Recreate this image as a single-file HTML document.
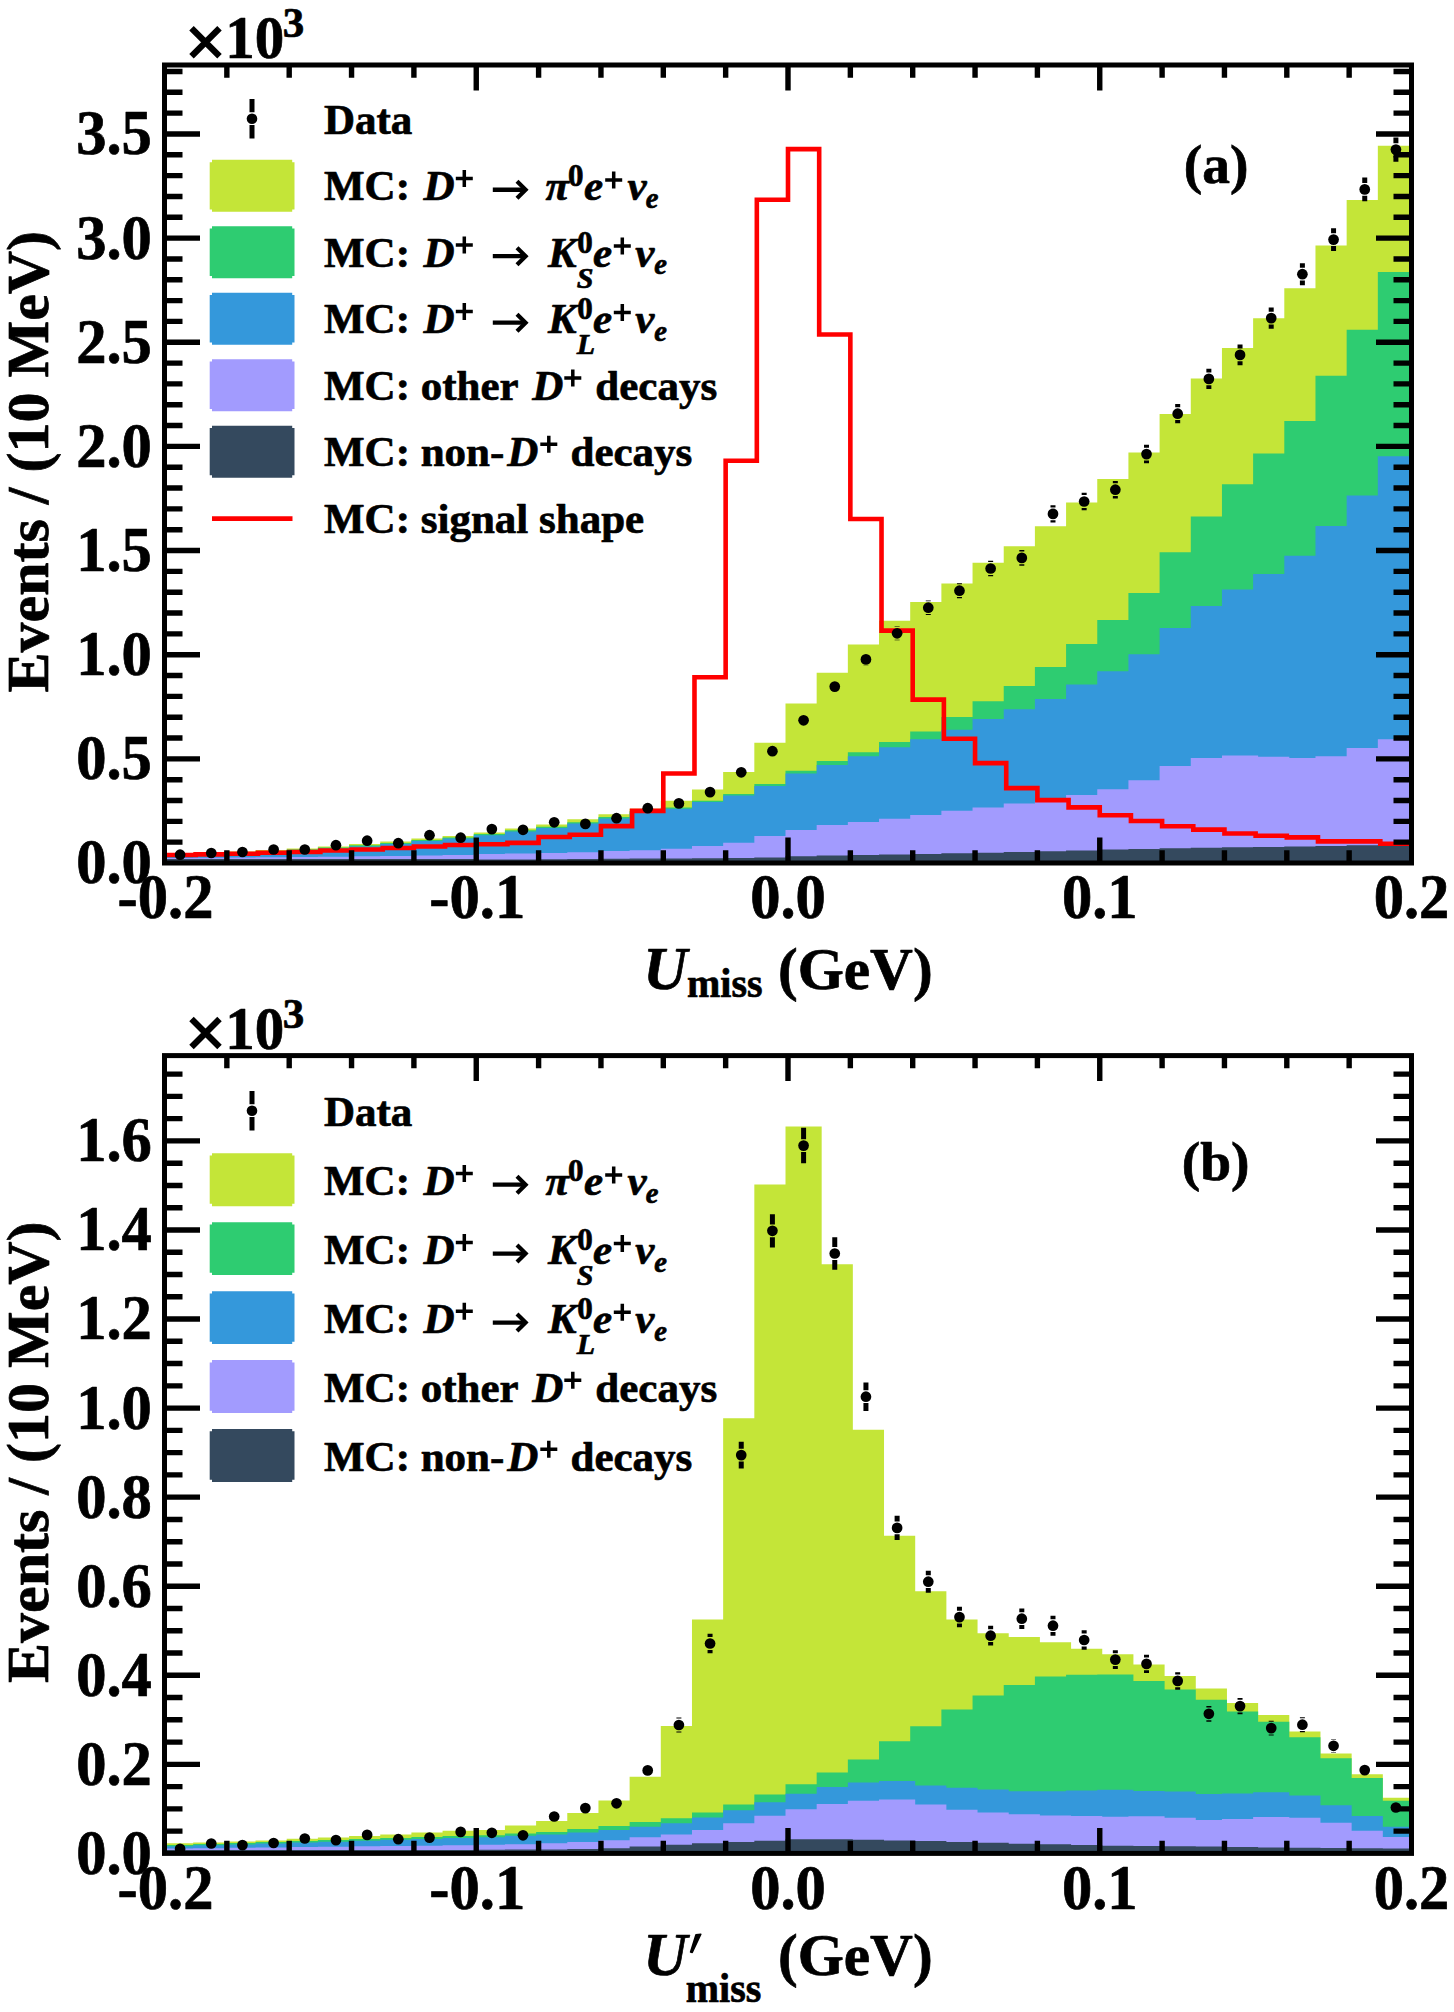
<!DOCTYPE html>
<html><head><meta charset="utf-8"><title>Umiss</title>
<style>
html,body{margin:0;padding:0;background:#fff;}
body{width:1454px;height:2012px;overflow:hidden;font-family:"Liberation Serif",serif;}
svg{display:block;}
text{font-family:"Liberation Serif",serif;fill:#000;stroke:#000;stroke-width:0.7px;stroke-linejoin:round;}
.b{font-weight:bold;}
.bi{font-weight:bold;font-style:italic;}
</style></head><body>
<svg width="1454" height="2012" viewBox="0 0 1454 2012"><rect width="1454" height="2012" fill="#fff"/><clipPath id="cp1"><rect x="164.5" y="65" width="1247" height="798"/></clipPath><g clip-path="url(#cp1)"><path d="M162 866 L162 853.5 L193.18 853.5 L193.18 852.5 L198.18 852.5 L198.18 852.5 L224.35 852.5 L224.35 851.5 L229.35 851.5 L229.35 851.5 L255.53 851.5 L255.53 850 L260.52 850 L260.52 850 L286.7 850 L286.7 848.5 L291.7 848.5 L291.7 848.5 L317.88 848.5 L317.88 846.5 L322.88 846.5 L322.88 846.5 L349.05 846.5 L349.05 844 L354.05 844 L354.05 844 L380.23 844 L380.23 841.5 L385.23 841.5 L385.23 841.5 L411.4 841.5 L411.4 838.5 L416.4 838.5 L416.4 838.5 L442.57 838.5 L442.57 836 L447.57 836 L447.57 836 L473.75 836 L473.75 832.5 L478.75 832.5 L478.75 832.5 L504.93 832.5 L504.93 828.4 L509.93 828.4 L509.93 828.4 L536.1 828.4 L536.1 824.5 L541.1 824.5 L541.1 824.5 L567.27 824.5 L567.27 819.3 L572.27 819.3 L572.27 819.3 L598.45 819.3 L598.45 814.3 L603.45 814.3 L603.45 814.3 L629.62 814.3 L629.62 808.7 L634.62 808.7 L634.62 808.7 L660.8 808.7 L660.8 800.7 L665.8 800.7 L665.8 800.7 L691.98 800.7 L691.98 789.4 L696.98 789.4 L696.98 789.4 L723.15 789.4 L723.15 771.9 L728.15 771.9 L728.15 771.9 L754.33 771.9 L754.33 742.8 L759.33 742.8 L759.33 742.8 L785.5 742.8 L785.5 703.5 L790.5 703.5 L790.5 703.5 L816.67 703.5 L816.67 672.8 L821.67 672.8 L821.67 672.8 L847.85 672.8 L847.85 644.4 L852.85 644.4 L852.85 644.4 L879.02 644.4 L879.02 620.8 L884.02 620.8 L884.02 620.8 L910.2 620.8 L910.2 602 L915.2 602 L915.2 602 L941.38 602 L941.38 583.4 L946.38 583.4 L946.38 583.4 L972.55 583.4 L972.55 562.7 L977.55 562.7 L977.55 562.7 L1003.73 562.7 L1003.73 546.2 L1008.73 546.2 L1008.73 546.2 L1034.9 546.2 L1034.9 526.3 L1039.9 526.3 L1039.9 526.3 L1066.08 526.3 L1066.08 502.4 L1071.08 502.4 L1071.08 502.4 L1097.25 502.4 L1097.25 479 L1102.25 479 L1102.25 479 L1128.42 479 L1128.42 452.5 L1133.42 452.5 L1133.42 452.5 L1159.6 452.5 L1159.6 413.9 L1164.6 413.9 L1164.6 413.9 L1190.78 413.9 L1190.78 378.5 L1195.78 378.5 L1195.78 378.5 L1221.95 378.5 L1221.95 348.1 L1226.95 348.1 L1226.95 348.1 L1253.12 348.1 L1253.12 318.3 L1258.12 318.3 L1258.12 318.3 L1284.3 318.3 L1284.3 288.3 L1289.3 288.3 L1289.3 288.3 L1315.47 288.3 L1315.47 245.4 L1320.47 245.4 L1320.47 245.4 L1346.65 245.4 L1346.65 200 L1351.65 200 L1351.65 200 L1377.83 200 L1377.83 145.8 L1382.83 145.8 L1382.83 145.8 L1414 145.8 L1414 866 Z" fill="#c4e538"/><path d="M162 866 L162 854.5 L193.18 854.5 L193.18 853.5 L198.18 853.5 L198.18 853.5 L224.35 853.5 L224.35 852.5 L229.35 852.5 L229.35 852.5 L255.53 852.5 L255.53 851 L260.52 851 L260.52 851 L286.7 851 L286.7 849.5 L291.7 849.5 L291.7 849.5 L317.88 849.5 L317.88 847.5 L322.88 847.5 L322.88 847.5 L349.05 847.5 L349.05 845.2 L354.05 845.2 L354.05 845.2 L380.23 845.2 L380.23 843 L385.23 843 L385.23 843 L411.4 843 L411.4 840 L416.4 840 L416.4 840 L442.57 840 L442.57 837.5 L447.57 837.5 L447.57 837.5 L473.75 837.5 L473.75 834.1 L478.75 834.1 L478.75 834.1 L504.93 834.1 L504.93 830.2 L509.93 830.2 L509.93 830.2 L536.1 830.2 L536.1 826.8 L541.1 826.8 L541.1 826.8 L567.27 826.8 L567.27 822.3 L572.27 822.3 L572.27 822.3 L598.45 822.3 L598.45 817.1 L603.45 817.1 L603.45 817.1 L629.62 817.1 L629.62 810.9 L634.62 810.9 L634.62 810.9 L660.8 810.9 L660.8 807.5 L665.8 807.5 L665.8 807.5 L691.98 807.5 L691.98 800.7 L696.98 800.7 L696.98 800.7 L723.15 800.7 L723.15 793.9 L728.15 793.9 L728.15 793.9 L754.33 793.9 L754.33 783.9 L759.33 783.9 L759.33 783.9 L785.5 783.9 L785.5 770.8 L790.5 770.8 L790.5 770.8 L816.67 770.8 L816.67 760.9 L821.67 760.9 L821.67 760.9 L847.85 760.9 L847.85 752.2 L852.85 752.2 L852.85 752.2 L879.02 752.2 L879.02 742 L884.02 742 L884.02 742 L910.2 742 L910.2 731.4 L915.2 731.4 L915.2 731.4 L941.38 731.4 L941.38 717.1 L946.38 717.1 L946.38 717.1 L972.55 717.1 L972.55 701.2 L977.55 701.2 L977.55 701.2 L1003.73 701.2 L1003.73 686 L1008.73 686 L1008.73 686 L1034.9 686 L1034.9 667.1 L1039.9 667.1 L1039.9 667.1 L1066.08 667.1 L1066.08 644 L1071.08 644 L1071.08 644 L1097.25 644 L1097.25 620.1 L1102.25 620.1 L1102.25 620.1 L1128.42 620.1 L1128.42 592.9 L1133.42 592.9 L1133.42 592.9 L1159.6 592.9 L1159.6 552.3 L1164.6 552.3 L1164.6 552.3 L1190.78 552.3 L1190.78 516.5 L1195.78 516.5 L1195.78 516.5 L1221.95 516.5 L1221.95 484.2 L1226.95 484.2 L1226.95 484.2 L1253.12 484.2 L1253.12 453.4 L1258.12 453.4 L1258.12 453.4 L1284.3 453.4 L1284.3 421.1 L1289.3 421.1 L1289.3 421.1 L1315.47 421.1 L1315.47 375.8 L1320.47 375.8 L1320.47 375.8 L1346.65 375.8 L1346.65 329.7 L1351.65 329.7 L1351.65 329.7 L1377.83 329.7 L1377.83 272 L1382.83 272 L1382.83 272 L1414 272 L1414 866 Z" fill="#2ecc71"/><path d="M162 866 L162 855.5 L193.18 855.5 L193.18 854.5 L198.18 854.5 L198.18 854.5 L224.35 854.5 L224.35 853.5 L229.35 853.5 L229.35 853.5 L255.53 853.5 L255.53 852 L260.52 852 L260.52 852 L286.7 852 L286.7 850.5 L291.7 850.5 L291.7 850.5 L317.88 850.5 L317.88 848.5 L322.88 848.5 L322.88 848.5 L349.05 848.5 L349.05 846.5 L354.05 846.5 L354.05 846.5 L380.23 846.5 L380.23 844 L385.23 844 L385.23 844 L411.4 844 L411.4 841 L416.4 841 L416.4 841 L442.57 841 L442.57 838.5 L447.57 838.5 L447.57 838.5 L473.75 838.5 L473.75 835.2 L478.75 835.2 L478.75 835.2 L504.93 835.2 L504.93 831.4 L509.93 831.4 L509.93 831.4 L536.1 831.4 L536.1 828 L541.1 828 L541.1 828 L567.27 828 L567.27 823.4 L572.27 823.4 L572.27 823.4 L598.45 823.4 L598.45 818.4 L603.45 818.4 L603.45 818.4 L629.62 818.4 L629.62 812.5 L634.62 812.5 L634.62 812.5 L660.8 812.5 L660.8 808.7 L665.8 808.7 L665.8 808.7 L691.98 808.7 L691.98 801.9 L696.98 801.9 L696.98 801.9 L723.15 801.9 L723.15 795.5 L728.15 795.5 L728.15 795.5 L754.33 795.5 L754.33 785.9 L759.33 785.9 L759.33 785.9 L785.5 785.9 L785.5 773.4 L790.5 773.4 L790.5 773.4 L816.67 773.4 L816.67 764.9 L821.67 764.9 L821.67 764.9 L847.85 764.9 L847.85 756.3 L852.85 756.3 L852.85 756.3 L879.02 756.3 L879.02 747.2 L884.02 747.2 L884.02 747.2 L910.2 747.2 L910.2 739.3 L915.2 739.3 L915.2 739.3 L941.38 739.3 L941.38 729.8 L946.38 729.8 L946.38 729.8 L972.55 729.8 L972.55 718.9 L977.55 718.9 L977.55 718.9 L1003.73 718.9 L1003.73 709.3 L1008.73 709.3 L1008.73 709.3 L1034.9 709.3 L1034.9 698.9 L1039.9 698.9 L1039.9 698.9 L1066.08 698.9 L1066.08 684.6 L1071.08 684.6 L1071.08 684.6 L1097.25 684.6 L1097.25 671.2 L1102.25 671.2 L1102.25 671.2 L1128.42 671.2 L1128.42 654.2 L1133.42 654.2 L1133.42 654.2 L1159.6 654.2 L1159.6 628.1 L1164.6 628.1 L1164.6 628.1 L1190.78 628.1 L1190.78 606.1 L1195.78 606.1 L1195.78 606.1 L1221.95 606.1 L1221.95 589.5 L1226.95 589.5 L1226.95 589.5 L1253.12 589.5 L1253.12 574.1 L1258.12 574.1 L1258.12 574.1 L1284.3 574.1 L1284.3 555.7 L1289.3 555.7 L1289.3 555.7 L1315.47 555.7 L1315.47 526 L1320.47 526 L1320.47 526 L1346.65 526 L1346.65 495.4 L1351.65 495.4 L1351.65 495.4 L1377.83 495.4 L1377.83 456.3 L1382.83 456.3 L1382.83 456.3 L1414 456.3 L1414 866 Z" fill="#3498db"/><path d="M162 866 L162 858 L193.18 858 L193.18 857.8 L198.18 857.8 L198.18 857.8 L224.35 857.8 L224.35 857.6 L229.35 857.6 L229.35 857.6 L255.53 857.6 L255.53 857.3 L260.52 857.3 L260.52 857.3 L286.7 857.3 L286.7 857 L291.7 857 L291.7 857 L317.88 857 L317.88 856.7 L322.88 856.7 L322.88 856.7 L349.05 856.7 L349.05 856.3 L354.05 856.3 L354.05 856.3 L380.23 856.3 L380.23 855.9 L385.23 855.9 L385.23 855.9 L411.4 855.9 L411.4 855.5 L416.4 855.5 L416.4 855.5 L442.57 855.5 L442.57 855 L447.57 855 L447.57 855 L473.75 855 L473.75 854 L478.75 854 L478.75 854 L504.93 854 L504.93 853.6 L509.93 853.6 L509.93 853.6 L536.1 853.6 L536.1 852.9 L541.1 852.9 L541.1 852.9 L567.27 852.9 L567.27 852.2 L572.27 852.2 L572.27 852.2 L598.45 852.2 L598.45 851.1 L603.45 851.1 L603.45 851.1 L629.62 851.1 L629.62 850.2 L634.62 850.2 L634.62 850.2 L660.8 850.2 L660.8 848.8 L665.8 848.8 L665.8 848.8 L691.98 848.8 L691.98 846.1 L696.98 846.1 L696.98 846.1 L723.15 846.1 L723.15 842.7 L728.15 842.7 L728.15 842.7 L754.33 842.7 L754.33 836.1 L759.33 836.1 L759.33 836.1 L785.5 836.1 L785.5 830 L790.5 830 L790.5 830 L816.67 830 L816.67 825.1 L821.67 825.1 L821.67 825.1 L847.85 825.1 L847.85 822.1 L852.85 822.1 L852.85 822.1 L879.02 822.1 L879.02 818.7 L884.02 818.7 L884.02 818.7 L910.2 818.7 L910.2 814.9 L915.2 814.9 L915.2 814.9 L941.38 814.9 L941.38 810.8 L946.38 810.8 L946.38 810.8 L972.55 810.8 L972.55 807.4 L977.55 807.4 L977.55 807.4 L1003.73 807.4 L1003.73 803.5 L1008.73 803.5 L1008.73 803.5 L1034.9 803.5 L1034.9 801.5 L1039.9 801.5 L1039.9 801.5 L1066.08 801.5 L1066.08 794.9 L1071.08 794.9 L1071.08 794.9 L1097.25 794.9 L1097.25 789.2 L1102.25 789.2 L1102.25 789.2 L1128.42 789.2 L1128.42 780.2 L1133.42 780.2 L1133.42 780.2 L1159.6 780.2 L1159.6 766.1 L1164.6 766.1 L1164.6 766.1 L1190.78 766.1 L1190.78 757.9 L1195.78 757.9 L1195.78 757.9 L1221.95 757.9 L1221.95 755.6 L1226.95 755.6 L1226.95 755.6 L1253.12 755.6 L1253.12 755.6 L1258.12 755.6 L1258.12 756.8 L1284.3 756.8 L1284.3 756.8 L1289.3 756.8 L1289.3 758.1 L1315.47 758.1 L1315.47 756.3 L1320.47 756.3 L1320.47 756.3 L1346.65 756.3 L1346.65 747.9 L1351.65 747.9 L1351.65 747.9 L1377.83 747.9 L1377.83 739.3 L1382.83 739.3 L1382.83 739.3 L1414 739.3 L1414 866 Z" fill="#a29bfe"/><path d="M162 866 L162 859 L193.18 859 L193.18 859 L198.18 859 L198.18 859 L224.35 859 L224.35 859 L229.35 859 L229.35 859 L255.53 859 L255.53 859 L260.52 859 L260.52 859 L286.7 859 L286.7 859 L291.7 859 L291.7 859 L317.88 859 L317.88 859 L322.88 859 L322.88 859 L349.05 859 L349.05 859 L354.05 859 L354.05 859 L380.23 859 L380.23 859 L385.23 859 L385.23 859 L411.4 859 L411.4 859 L416.4 859 L416.4 859 L442.57 859 L442.57 859 L447.57 859 L447.57 859 L473.75 859 L473.75 859 L478.75 859 L478.75 859.5 L504.93 859.5 L504.93 859.4 L509.93 859.4 L509.93 859.4 L536.1 859.4 L536.1 859.2 L541.1 859.2 L541.1 859.2 L567.27 859.2 L567.27 859 L572.27 859 L572.27 859 L598.45 859 L598.45 858.8 L603.45 858.8 L603.45 858.8 L629.62 858.8 L629.62 858.6 L634.62 858.6 L634.62 858.6 L660.8 858.6 L660.8 858.4 L665.8 858.4 L665.8 858.4 L691.98 858.4 L691.98 858.2 L696.98 858.2 L696.98 858.2 L723.15 858.2 L723.15 858 L728.15 858 L728.15 858 L754.33 858 L754.33 857.5 L759.33 857.5 L759.33 857.5 L785.5 857.5 L785.5 856.2 L790.5 856.2 L790.5 856.2 L816.67 856.2 L816.67 855.6 L821.67 855.6 L821.67 855.6 L847.85 855.6 L847.85 855 L852.85 855 L852.85 855 L879.02 855 L879.02 854.4 L884.02 854.4 L884.02 854.4 L910.2 854.4 L910.2 853.9 L915.2 853.9 L915.2 853.9 L941.38 853.9 L941.38 853.3 L946.38 853.3 L946.38 853.3 L972.55 853.3 L972.55 852.8 L977.55 852.8 L977.55 852.8 L1003.73 852.8 L1003.73 852 L1008.73 852 L1008.73 852 L1034.9 852 L1034.9 851.2 L1039.9 851.2 L1039.9 851.2 L1066.08 851.2 L1066.08 850.5 L1071.08 850.5 L1071.08 850.5 L1097.25 850.5 L1097.25 849.4 L1102.25 849.4 L1102.25 849.4 L1128.42 849.4 L1128.42 848.9 L1133.42 848.9 L1133.42 848.9 L1159.6 848.9 L1159.6 848.3 L1164.6 848.3 L1164.6 848.3 L1190.78 848.3 L1190.78 847.8 L1195.78 847.8 L1195.78 847.8 L1221.95 847.8 L1221.95 847.3 L1226.95 847.3 L1226.95 847.3 L1253.12 847.3 L1253.12 846.9 L1258.12 846.9 L1258.12 846.9 L1284.3 846.9 L1284.3 846.4 L1289.3 846.4 L1289.3 846.4 L1315.47 846.4 L1315.47 845.9 L1320.47 845.9 L1320.47 845.9 L1346.65 845.9 L1346.65 845.3 L1351.65 845.3 L1351.65 845.3 L1377.83 845.3 L1377.83 844.8 L1382.83 844.8 L1382.83 844.8 L1414 844.8 L1414 866 Z" fill="#34495e"/><path d="M164.5 855 L164.5 855 L195.68 855 L195.68 854.4 L226.85 854.4 L226.85 853.7 L258.02 853.7 L258.02 852.8 L289.2 852.8 L289.2 852 L320.38 852 L320.38 850.5 L351.55 850.5 L351.55 849.5 L382.73 849.5 L382.73 848 L413.9 848 L413.9 846.5 L445.07 846.5 L445.07 845 L476.25 845 L476.25 844.3 L507.43 844.3 L507.43 842.9 L538.6 842.9 L538.6 837 L569.78 837 L569.78 834.8 L600.95 834.8 L600.95 826.1 L632.12 826.1 L632.12 810.9 L663.3 810.9 L663.3 773.5 L694.48 773.5 L694.48 677.3 L725.65 677.3 L725.65 460.8 L756.83 460.8 L756.83 199.7 L788 199.7 L788 149.1 L819.18 149.1 L819.18 334.5 L850.35 334.5 L850.35 519 L881.52 519 L881.52 630.6 L912.7 630.6 L912.7 699.6 L943.88 699.6 L943.88 738.8 L975.05 738.8 L975.05 763.1 L1006.23 763.1 L1006.23 788.1 L1037.4 788.1 L1037.4 800.1 L1068.58 800.1 L1068.58 807.4 L1099.75 807.4 L1099.75 815.3 L1130.93 815.3 L1130.93 821 L1162.1 821 L1162.1 826.2 L1193.28 826.2 L1193.28 829.6 L1224.45 829.6 L1224.45 833.5 L1255.62 833.5 L1255.62 835.8 L1286.8 835.8 L1286.8 837.4 L1317.98 837.4 L1317.98 841.4 L1349.15 841.4 L1349.15 841.4 L1380.33 841.4 L1380.33 843.7 L1411.5 843.7" fill="none" stroke="#ff0000" stroke-width="4.6" stroke-linejoin="miter"/><g><path d="M865.94 652.89V653 M865.94 665.8V665.91" stroke="#000" stroke-width="5"/><path d="M897.11 626.38V626.9 M897.11 639.7V640.22" stroke="#000" stroke-width="5"/><path d="M928.29 600.41V601.3 M928.29 614.1V614.99" stroke="#000" stroke-width="5"/><path d="M959.46 583.17V584.3 M959.46 597.1V598.23" stroke="#000" stroke-width="5"/><path d="M990.64 560.67V562.1 M990.64 574.9V576.33" stroke="#000" stroke-width="5"/><path d="M1021.81 549.93V551.5 M1021.81 564.3V565.87" stroke="#000" stroke-width="5"/><path d="M1052.99 505.37V507.5 M1052.99 520.3V522.43" stroke="#000" stroke-width="5"/><path d="M1084.16 492.82V495.1 M1084.16 507.9V510.18" stroke="#000" stroke-width="5"/><path d="M1115.34 480.88V483.3 M1115.34 496.1V498.52" stroke="#000" stroke-width="5"/><path d="M1146.51 444.87V447.7 M1146.51 460.5V463.33" stroke="#000" stroke-width="5"/><path d="M1177.69 404.03V407.3 M1177.69 420.1V423.37" stroke="#000" stroke-width="5"/><path d="M1208.86 368.86V372.5 M1208.86 385.3V388.94" stroke="#000" stroke-width="5"/><path d="M1240.04 344.61V348.5 M1240.04 361.3V365.19" stroke="#000" stroke-width="5"/><path d="M1271.21 307.45V311.7 M1271.21 324.5V328.75" stroke="#000" stroke-width="5"/><path d="M1302.39 263.13V267.8 M1302.39 280.6V285.27" stroke="#000" stroke-width="5"/><path d="M1333.56 228.2V233.2 M1333.56 246V251" stroke="#000" stroke-width="5"/><path d="M1364.74 177.55V183 M1364.74 195.8V201.25" stroke="#000" stroke-width="5"/><path d="M1395.91 137.41V143.2 M1395.91 156V161.79" stroke="#000" stroke-width="5"/><circle cx="180.09" cy="854.7" r="5.35" fill="#000"/><circle cx="211.26" cy="853" r="5.35" fill="#000"/><circle cx="242.44" cy="852" r="5.35" fill="#000"/><circle cx="273.61" cy="849.5" r="5.35" fill="#000"/><circle cx="304.79" cy="849.5" r="5.35" fill="#000"/><circle cx="335.96" cy="845.2" r="5.35" fill="#000"/><circle cx="367.14" cy="840.7" r="5.35" fill="#000"/><circle cx="398.31" cy="843.2" r="5.35" fill="#000"/><circle cx="429.49" cy="835.2" r="5.35" fill="#000"/><circle cx="460.66" cy="837.7" r="5.35" fill="#000"/><circle cx="491.84" cy="829.1" r="5.35" fill="#000"/><circle cx="523.01" cy="829.8" r="5.35" fill="#000"/><circle cx="554.19" cy="822.3" r="5.35" fill="#000"/><circle cx="585.36" cy="823.9" r="5.35" fill="#000"/><circle cx="616.54" cy="818.2" r="5.35" fill="#000"/><circle cx="647.71" cy="808.2" r="5.35" fill="#000"/><circle cx="678.89" cy="803.4" r="5.35" fill="#000"/><circle cx="710.06" cy="792.1" r="5.35" fill="#000"/><circle cx="741.24" cy="772.3" r="5.35" fill="#000"/><circle cx="772.41" cy="751.2" r="5.35" fill="#000"/><circle cx="803.59" cy="720.3" r="5.35" fill="#000"/><circle cx="834.76" cy="686.6" r="5.35" fill="#000"/><circle cx="865.94" cy="659.4" r="5.35" fill="#000"/><circle cx="897.11" cy="633.3" r="5.35" fill="#000"/><circle cx="928.29" cy="607.7" r="5.35" fill="#000"/><circle cx="959.46" cy="590.7" r="5.35" fill="#000"/><circle cx="990.64" cy="568.5" r="5.35" fill="#000"/><circle cx="1021.81" cy="557.9" r="5.35" fill="#000"/><circle cx="1052.99" cy="513.9" r="5.35" fill="#000"/><circle cx="1084.16" cy="501.5" r="5.35" fill="#000"/><circle cx="1115.34" cy="489.7" r="5.35" fill="#000"/><circle cx="1146.51" cy="454.1" r="5.35" fill="#000"/><circle cx="1177.69" cy="413.7" r="5.35" fill="#000"/><circle cx="1208.86" cy="378.9" r="5.35" fill="#000"/><circle cx="1240.04" cy="354.9" r="5.35" fill="#000"/><circle cx="1271.21" cy="318.1" r="5.35" fill="#000"/><circle cx="1302.39" cy="274.2" r="5.35" fill="#000"/><circle cx="1333.56" cy="239.6" r="5.35" fill="#000"/><circle cx="1364.74" cy="189.4" r="5.35" fill="#000"/><circle cx="1395.91" cy="149.6" r="5.35" fill="#000"/></g></g><g stroke="#000" stroke-width="5.4" fill="none" stroke-linecap="butt"><path d="M226.85 863V850.3 M226.85 65V77.7"/><path d="M289.2 863V850.3 M289.2 65V77.7"/><path d="M351.55 863V850.3 M351.55 65V77.7"/><path d="M413.9 863V850.3 M413.9 65V77.7"/><path d="M476.25 863V837.5 M476.25 65V90.5"/><path d="M538.6 863V850.3 M538.6 65V77.7"/><path d="M600.95 863V850.3 M600.95 65V77.7"/><path d="M663.3 863V850.3 M663.3 65V77.7"/><path d="M725.65 863V850.3 M725.65 65V77.7"/><path d="M788 863V837.5 M788 65V90.5"/><path d="M850.35 863V850.3 M850.35 65V77.7"/><path d="M912.7 863V850.3 M912.7 65V77.7"/><path d="M975.05 863V850.3 M975.05 65V77.7"/><path d="M1037.4 863V850.3 M1037.4 65V77.7"/><path d="M1099.75 863V837.5 M1099.75 65V90.5"/><path d="M1162.1 863V850.3 M1162.1 65V77.7"/><path d="M1224.45 863V850.3 M1224.45 65V77.7"/><path d="M1286.8 863V850.3 M1286.8 65V77.7"/><path d="M1349.15 863V850.3 M1349.15 65V77.7"/><path d="M164.5 758.85H200 M1411.5 758.85H1376"/><path d="M164.5 654.7H200 M1411.5 654.7H1376"/><path d="M164.5 550.55H200 M1411.5 550.55H1376"/><path d="M164.5 446.4H200 M1411.5 446.4H1376"/><path d="M164.5 342.25H200 M1411.5 342.25H1376"/><path d="M164.5 238.1H200 M1411.5 238.1H1376"/><path d="M164.5 133.95H200 M1411.5 133.95H1376"/><path d="M164.5 842.17H182.5 M1411.5 842.17H1393.5"/><path d="M164.5 821.34H182.5 M1411.5 821.34H1393.5"/><path d="M164.5 800.51H182.5 M1411.5 800.51H1393.5"/><path d="M164.5 779.68H182.5 M1411.5 779.68H1393.5"/><path d="M164.5 738.02H182.5 M1411.5 738.02H1393.5"/><path d="M164.5 717.19H182.5 M1411.5 717.19H1393.5"/><path d="M164.5 696.36H182.5 M1411.5 696.36H1393.5"/><path d="M164.5 675.53H182.5 M1411.5 675.53H1393.5"/><path d="M164.5 633.87H182.5 M1411.5 633.87H1393.5"/><path d="M164.5 613.04H182.5 M1411.5 613.04H1393.5"/><path d="M164.5 592.21H182.5 M1411.5 592.21H1393.5"/><path d="M164.5 571.38H182.5 M1411.5 571.38H1393.5"/><path d="M164.5 529.72H182.5 M1411.5 529.72H1393.5"/><path d="M164.5 508.89H182.5 M1411.5 508.89H1393.5"/><path d="M164.5 488.06H182.5 M1411.5 488.06H1393.5"/><path d="M164.5 467.23H182.5 M1411.5 467.23H1393.5"/><path d="M164.5 425.57H182.5 M1411.5 425.57H1393.5"/><path d="M164.5 404.74H182.5 M1411.5 404.74H1393.5"/><path d="M164.5 383.91H182.5 M1411.5 383.91H1393.5"/><path d="M164.5 363.08H182.5 M1411.5 363.08H1393.5"/><path d="M164.5 321.42H182.5 M1411.5 321.42H1393.5"/><path d="M164.5 300.59H182.5 M1411.5 300.59H1393.5"/><path d="M164.5 279.76H182.5 M1411.5 279.76H1393.5"/><path d="M164.5 258.93H182.5 M1411.5 258.93H1393.5"/><path d="M164.5 217.27H182.5 M1411.5 217.27H1393.5"/><path d="M164.5 196.44H182.5 M1411.5 196.44H1393.5"/><path d="M164.5 175.61H182.5 M1411.5 175.61H1393.5"/><path d="M164.5 154.78H182.5 M1411.5 154.78H1393.5"/><path d="M164.5 113.12H182.5 M1411.5 113.12H1393.5"/><path d="M164.5 92.29H182.5 M1411.5 92.29H1393.5"/><path d="M164.5 71.46H182.5 M1411.5 71.46H1393.5"/></g><g stroke="#000" stroke-width="5" fill="none"><rect x="164.5" y="65" width="1247" height="798"/></g><text transform="translate(151.9 883.4) scale(0.985 1.03)" font-size="61.5" class="b" text-anchor="end" >0.0</text><text transform="translate(151.9 779.25) scale(0.985 1.03)" font-size="61.5" class="b" text-anchor="end" >0.5</text><text transform="translate(151.9 675.1) scale(0.985 1.03)" font-size="61.5" class="b" text-anchor="end" >1.0</text><text transform="translate(151.9 570.95) scale(0.985 1.03)" font-size="61.5" class="b" text-anchor="end" >1.5</text><text transform="translate(151.9 466.8) scale(0.985 1.03)" font-size="61.5" class="b" text-anchor="end" >2.0</text><text transform="translate(151.9 362.65) scale(0.985 1.03)" font-size="61.5" class="b" text-anchor="end" >2.5</text><text transform="translate(151.9 258.5) scale(0.985 1.03)" font-size="61.5" class="b" text-anchor="end" >3.0</text><text transform="translate(151.9 154.35) scale(0.985 1.03)" font-size="61.5" class="b" text-anchor="end" >3.5</text><text transform="translate(165.5 918.4) scale(0.985 1.03)" font-size="61.5" class="b" text-anchor="middle" >-0.2</text><text transform="translate(477.25 918.4) scale(0.985 1.03)" font-size="61.5" class="b" text-anchor="middle" >-0.1</text><text transform="translate(788 918.4) scale(0.985 1.03)" font-size="61.5" class="b" text-anchor="middle" >0.0</text><text transform="translate(1099.75 918.4) scale(0.985 1.03)" font-size="61.5" class="b" text-anchor="middle" >0.1</text><text transform="translate(1411.5 918.4) scale(0.985 1.03)" font-size="61.5" class="b" text-anchor="middle" >0.2</text><path d="M191.5 28.3L219.5 56.3 M191.5 56.3L219.5 28.3" stroke="#000" stroke-width="6.3" fill="none"/><text x="225.3" y="58.3" font-size="61.5" class="b" text-anchor="start" textLength="59" lengthAdjust="spacingAndGlyphs">10</text><text x="282.8" y="37.3" font-size="43" class="b" text-anchor="start" >3</text><path d="M252 99.1V112.3 M252 125.1V138.5" stroke="#000" stroke-width="5"/><circle cx="252" cy="118.7" r="5.3" fill="#000"/><text x="324" y="133.9" font-size="43" class="b" text-anchor="start" >Data</text><path d="M212 159.85H292.2V162.15H294.5V209.55H292.2V211.85H212V209.55H209.7V162.15H212Z" fill="#c4e538"/><path d="M212 226.3H292.2V228.6H294.5V276H292.2V278.3H212V276H209.7V228.6H212Z" fill="#2ecc71"/><path d="M212 292.75H292.2V295.05H294.5V342.45H292.2V344.75H212V342.45H209.7V295.05H212Z" fill="#3498db"/><path d="M212 359.2H292.2V361.5H294.5V408.9H292.2V411.2H212V408.9H209.7V361.5H212Z" fill="#a29bfe"/><path d="M212 425.65H292.2V427.95H294.5V475.35H292.2V477.65H212V475.35H209.7V427.95H212Z" fill="#34495e"/><text x="324" y="200.35" font-size="43" class="b" text-anchor="start" >MC:</text><text x="423.4" y="200.35" font-size="43" class="bi" text-anchor="start" >D</text><path d="M455.8 178.55h17 M464.3 170.05v17" stroke="#000" stroke-width="3.5" fill="none"/><path d="M492.8 189.75H525.6" stroke="#000" stroke-width="4.3" fill="none"/><path d="M517 181.25 L525.6 189.75 L517 198.25" stroke="#000" stroke-width="4.2" fill="none" stroke-linejoin="miter" stroke-miterlimit="10"/><text x="324" y="266.8" font-size="43" class="b" text-anchor="start" >MC:</text><text x="423.4" y="266.8" font-size="43" class="bi" text-anchor="start" >D</text><path d="M455.8 245h17 M464.3 236.5v17" stroke="#000" stroke-width="3.5" fill="none"/><path d="M492.8 256.2H525.6" stroke="#000" stroke-width="4.3" fill="none"/><path d="M517 247.7 L525.6 256.2 L517 264.7" stroke="#000" stroke-width="4.2" fill="none" stroke-linejoin="miter" stroke-miterlimit="10"/><text x="324" y="333.25" font-size="43" class="b" text-anchor="start" >MC:</text><text x="423.4" y="333.25" font-size="43" class="bi" text-anchor="start" >D</text><path d="M455.8 311.45h17 M464.3 302.95v17" stroke="#000" stroke-width="3.5" fill="none"/><path d="M492.8 322.65H525.6" stroke="#000" stroke-width="4.3" fill="none"/><path d="M517 314.15 L525.6 322.65 L517 331.15" stroke="#000" stroke-width="4.2" fill="none" stroke-linejoin="miter" stroke-miterlimit="10"/><text x="545.5" y="200.35" font-size="43" class="bi" text-anchor="start" >π</text><text x="568" y="186.15" font-size="31" class="b" text-anchor="start" >0</text><text x="584" y="200.35" font-size="43" class="bi" text-anchor="start" >e</text><path d="M605.2 180.05h17 M613.7 171.55v17" stroke="#000" stroke-width="3.5" fill="none"/><text x="627.5" y="200.35" font-size="43" class="bi" text-anchor="start" >ν</text><text x="645.8" y="207.75" font-size="28.5" class="bi" text-anchor="start" >e</text><text x="547.9" y="266.8" font-size="43" class="bi" text-anchor="start" >K</text><text x="577.2" y="252.6" font-size="31" class="b" text-anchor="start" >0</text><text x="576.7" y="288" font-size="30" class="bi" text-anchor="start" >S</text><text x="593" y="266.8" font-size="43" class="bi" text-anchor="start" >e</text><path d="M613.8 246h17 M622.3 237.5v17" stroke="#000" stroke-width="3.5" fill="none"/><text x="635.3" y="266.8" font-size="43" class="bi" text-anchor="start" >ν</text><text x="654.3" y="274.2" font-size="28.5" class="bi" text-anchor="start" >e</text><text x="547.9" y="333.25" font-size="43" class="bi" text-anchor="start" >K</text><text x="577.2" y="319.05" font-size="31" class="b" text-anchor="start" >0</text><text x="576.7" y="354.45" font-size="30" class="bi" text-anchor="start" >L</text><text x="593" y="333.25" font-size="43" class="bi" text-anchor="start" >e</text><path d="M613.8 312.45h17 M622.3 303.95v17" stroke="#000" stroke-width="3.5" fill="none"/><text x="635.3" y="333.25" font-size="43" class="bi" text-anchor="start" >ν</text><text x="654.3" y="340.65" font-size="28.5" class="bi" text-anchor="start" >e</text><text x="324" y="399.7" font-size="43" class="b" text-anchor="start" >MC: other</text><text x="532.3" y="399.7" font-size="43" class="bi" text-anchor="start" >D</text><path d="M564.3 377.9h17 M572.8 369.4v17" stroke="#000" stroke-width="3.5" fill="none"/><text x="595.3" y="399.7" font-size="43" class="b" text-anchor="start" >decays</text><text x="324" y="466.15" font-size="43" class="b" text-anchor="start" >MC: non-</text><text x="507.3" y="466.15" font-size="43" class="bi" text-anchor="start" >D</text><path d="M540.3 444.35h17 M548.8 435.85v17" stroke="#000" stroke-width="3.5" fill="none"/><text x="570.5" y="466.15" font-size="43" class="b" text-anchor="start" >decays</text><path d="M212 518.6H292.5" stroke="#ff0000" stroke-width="4.6"/><text x="324" y="532.6" font-size="43" class="b" text-anchor="start" >MC: signal shape</text><text transform="translate(47.8 461.7) rotate(-90)" font-size="60" class="b" text-anchor="middle">Events / (10 MeV)</text><text x="1216.2" y="183.2" font-size="55.5" class="b" text-anchor="middle" >(a)</text><text x="643.2" y="989" font-size="61" class="bi" text-anchor="start" >U</text><text x="687" y="996.8" font-size="42" class="b" text-anchor="start" textLength="75.5" lengthAdjust="spacingAndGlyphs">miss</text><text x="777.9" y="989" font-size="59.3" class="b" text-anchor="start" >(GeV)</text><clipPath id="cp2"><rect x="164.5" y="1055.6" width="1247" height="797.8"/></clipPath><g clip-path="url(#cp2)"><path d="M162 1856.4 L162 1843.3 L193.18 1843.3 L193.18 1842.5 L198.18 1842.5 L198.18 1842.5 L224.35 1842.5 L224.35 1841.5 L229.35 1841.5 L229.35 1841.5 L255.53 1841.5 L255.53 1840.5 L260.52 1840.5 L260.52 1840.5 L286.7 1840.5 L286.7 1838.7 L291.7 1838.7 L291.7 1838.7 L317.88 1838.7 L317.88 1837.5 L322.88 1837.5 L322.88 1837.5 L349.05 1837.5 L349.05 1836 L354.05 1836 L354.05 1836 L380.23 1836 L380.23 1834.5 L385.23 1834.5 L385.23 1834.5 L411.4 1834.5 L411.4 1832.6 L416.4 1832.6 L416.4 1832.6 L442.57 1832.6 L442.57 1830.8 L447.57 1830.8 L447.57 1830.8 L473.75 1830.8 L473.75 1830.1 L478.75 1830.1 L478.75 1830.1 L504.93 1830.1 L504.93 1825.5 L509.93 1825.5 L509.93 1825.5 L536.1 1825.5 L536.1 1821 L541.1 1821 L541.1 1821 L567.27 1821 L567.27 1813.1 L572.27 1813.1 L572.27 1813.1 L598.45 1813.1 L598.45 1800.6 L603.45 1800.6 L603.45 1800.6 L629.62 1800.6 L629.62 1776.7 L634.62 1776.7 L634.62 1776.7 L660.8 1776.7 L660.8 1726.1 L665.8 1726.1 L665.8 1726.1 L691.98 1726.1 L691.98 1619.5 L696.98 1619.5 L696.98 1619.5 L723.15 1619.5 L723.15 1418.2 L728.15 1418.2 L728.15 1418.2 L754.33 1418.2 L754.33 1184.6 L759.33 1184.6 L759.33 1184.6 L785.5 1184.6 L785.5 1126.4 L790.5 1126.4 L790.5 1126.4 L816.67 1126.4 L816.67 1126.4 L821.67 1126.4 L821.67 1264.2 L847.85 1264.2 L847.85 1264.2 L852.85 1264.2 L852.85 1429.8 L879.02 1429.8 L879.02 1429.8 L884.02 1429.8 L884.02 1535.7 L910.2 1535.7 L910.2 1535.7 L915.2 1535.7 L915.2 1591.2 L941.38 1591.2 L941.38 1591.2 L946.38 1591.2 L946.38 1619.6 L972.55 1619.6 L972.55 1619.6 L977.55 1619.6 L977.55 1633.2 L1003.73 1633.2 L1003.73 1633.2 L1008.73 1633.2 L1008.73 1636.9 L1034.9 1636.9 L1034.9 1636.9 L1039.9 1636.9 L1039.9 1642.3 L1066.08 1642.3 L1066.08 1642.3 L1071.08 1642.3 L1071.08 1648.7 L1097.25 1648.7 L1097.25 1648.7 L1102.25 1648.7 L1102.25 1654.3 L1128.42 1654.3 L1128.42 1654.3 L1133.42 1654.3 L1133.42 1664.5 L1159.6 1664.5 L1159.6 1664.5 L1164.6 1664.5 L1164.6 1675.9 L1190.78 1675.9 L1190.78 1675.9 L1195.78 1675.9 L1195.78 1688.4 L1221.95 1688.4 L1221.95 1688.4 L1226.95 1688.4 L1226.95 1703.1 L1253.12 1703.1 L1253.12 1703.1 L1258.12 1703.1 L1258.12 1714.9 L1284.3 1714.9 L1284.3 1714.9 L1289.3 1714.9 L1289.3 1731.5 L1315.47 1731.5 L1315.47 1731.5 L1320.47 1731.5 L1320.47 1753.5 L1346.65 1753.5 L1346.65 1753.5 L1351.65 1753.5 L1351.65 1774.2 L1377.83 1774.2 L1377.83 1774.2 L1382.83 1774.2 L1382.83 1797.8 L1414 1797.8 L1414 1856.4 Z" fill="#c4e538"/><path d="M162 1856.4 L162 1844.9 L193.18 1844.9 L193.18 1843.91 L198.18 1843.91 L198.18 1843.91 L224.35 1843.91 L224.35 1842.92 L229.35 1842.92 L229.35 1842.92 L255.53 1842.92 L255.53 1841.93 L260.52 1841.93 L260.52 1841.93 L286.7 1841.93 L286.7 1840.94 L291.7 1840.94 L291.7 1840.94 L317.88 1840.94 L317.88 1839.96 L322.88 1839.96 L322.88 1839.96 L349.05 1839.96 L349.05 1838.97 L354.05 1838.97 L354.05 1838.97 L380.23 1838.97 L380.23 1837.98 L385.23 1837.98 L385.23 1837.98 L411.4 1837.98 L411.4 1836.99 L416.4 1836.99 L416.4 1836.99 L442.57 1836.99 L442.57 1836 L447.57 1836 L447.57 1836 L473.75 1836 L473.75 1835.3 L478.75 1835.3 L478.75 1835.3 L504.93 1835.3 L504.93 1833.5 L509.93 1833.5 L509.93 1833.5 L536.1 1833.5 L536.1 1831.9 L541.1 1831.9 L541.1 1831.9 L567.27 1831.9 L567.27 1828.9 L572.27 1828.9 L572.27 1828.9 L598.45 1828.9 L598.45 1826 L603.45 1826 L603.45 1826 L629.62 1826 L629.62 1822.1 L634.62 1822.1 L634.62 1822.1 L660.8 1822.1 L660.8 1818.3 L665.8 1818.3 L665.8 1818.3 L691.98 1818.3 L691.98 1812.4 L696.98 1812.4 L696.98 1812.4 L723.15 1812.4 L723.15 1804.4 L728.15 1804.4 L728.15 1804.4 L754.33 1804.4 L754.33 1794.5 L759.33 1794.5 L759.33 1794.5 L785.5 1794.5 L785.5 1784.3 L790.5 1784.3 L790.5 1784.3 L816.67 1784.3 L816.67 1772.4 L821.67 1772.4 L821.67 1772.4 L847.85 1772.4 L847.85 1759.4 L852.85 1759.4 L852.85 1759.4 L879.02 1759.4 L879.02 1741.3 L884.02 1741.3 L884.02 1741.3 L910.2 1741.3 L910.2 1726.3 L915.2 1726.3 L915.2 1726.3 L941.38 1726.3 L941.38 1709.5 L946.38 1709.5 L946.38 1709.5 L972.55 1709.5 L972.55 1695.6 L977.55 1695.6 L977.55 1695.6 L1003.73 1695.6 L1003.73 1685 L1008.73 1685 L1008.73 1685 L1034.9 1685 L1034.9 1676.6 L1039.9 1676.6 L1039.9 1676.6 L1066.08 1676.6 L1066.08 1674.8 L1071.08 1674.8 L1071.08 1674.8 L1097.25 1674.8 L1097.25 1674.6 L1102.25 1674.6 L1102.25 1674.6 L1128.42 1674.6 L1128.42 1674.6 L1133.42 1674.6 L1133.42 1680.9 L1159.6 1680.9 L1159.6 1680.9 L1164.6 1680.9 L1164.6 1689.5 L1190.78 1689.5 L1190.78 1689.5 L1195.78 1689.5 L1195.78 1699.7 L1221.95 1699.7 L1221.95 1699.7 L1226.95 1699.7 L1226.95 1711.5 L1253.12 1711.5 L1253.12 1711.5 L1258.12 1711.5 L1258.12 1721.7 L1284.3 1721.7 L1284.3 1721.7 L1289.3 1721.7 L1289.3 1737.2 L1315.47 1737.2 L1315.47 1737.2 L1320.47 1737.2 L1320.47 1758.3 L1346.65 1758.3 L1346.65 1758.3 L1351.65 1758.3 L1351.65 1778 L1377.83 1778 L1377.83 1778 L1382.83 1778 L1382.83 1800.7 L1414 1800.7 L1414 1856.4 Z" fill="#2ecc71"/><path d="M162 1856.4 L162 1846.2 L193.18 1846.2 L193.18 1845.29 L198.18 1845.29 L198.18 1845.29 L224.35 1845.29 L224.35 1844.38 L229.35 1844.38 L229.35 1844.38 L255.53 1844.38 L255.53 1843.47 L260.52 1843.47 L260.52 1843.47 L286.7 1843.47 L286.7 1842.56 L291.7 1842.56 L291.7 1842.56 L317.88 1842.56 L317.88 1841.64 L322.88 1841.64 L322.88 1841.64 L349.05 1841.64 L349.05 1840.73 L354.05 1840.73 L354.05 1840.73 L380.23 1840.73 L380.23 1839.82 L385.23 1839.82 L385.23 1839.82 L411.4 1839.82 L411.4 1838.91 L416.4 1838.91 L416.4 1838.91 L442.57 1838.91 L442.57 1838 L447.57 1838 L447.57 1838 L473.75 1838 L473.75 1837.3 L478.75 1837.3 L478.75 1837.3 L504.93 1837.3 L504.93 1835.8 L509.93 1835.8 L509.93 1835.8 L536.1 1835.8 L536.1 1834.6 L541.1 1834.6 L541.1 1834.6 L567.27 1834.6 L567.27 1832.4 L572.27 1832.4 L572.27 1832.4 L598.45 1832.4 L598.45 1830.1 L603.45 1830.1 L603.45 1830.1 L629.62 1830.1 L629.62 1826.7 L634.62 1826.7 L634.62 1826.7 L660.8 1826.7 L660.8 1823.3 L665.8 1823.3 L665.8 1823.3 L691.98 1823.3 L691.98 1817.6 L696.98 1817.6 L696.98 1817.6 L723.15 1817.6 L723.15 1810.3 L728.15 1810.3 L728.15 1810.3 L754.33 1810.3 L754.33 1802.3 L759.33 1802.3 L759.33 1802.3 L785.5 1802.3 L785.5 1793.8 L790.5 1793.8 L790.5 1793.8 L816.67 1793.8 L816.67 1787.1 L821.67 1787.1 L821.67 1787.1 L847.85 1787.1 L847.85 1782.6 L852.85 1782.6 L852.85 1782.6 L879.02 1782.6 L879.02 1781 L884.02 1781 L884.02 1781 L910.2 1781 L910.2 1781 L915.2 1781 L915.2 1785.5 L941.38 1785.5 L941.38 1785.5 L946.38 1785.5 L946.38 1787.8 L972.55 1787.8 L972.55 1787.8 L977.55 1787.8 L977.55 1789.4 L1003.73 1789.4 L1003.73 1789.4 L1008.73 1789.4 L1008.73 1791.2 L1034.9 1791.2 L1034.9 1791.2 L1039.9 1791.2 L1039.9 1791.2 L1066.08 1791.2 L1066.08 1790.5 L1071.08 1790.5 L1071.08 1790.5 L1097.25 1790.5 L1097.25 1789.8 L1102.25 1789.8 L1102.25 1789.8 L1128.42 1789.8 L1128.42 1789.8 L1133.42 1789.8 L1133.42 1791 L1159.6 1791 L1159.6 1791 L1164.6 1791 L1164.6 1791.6 L1190.78 1791.6 L1190.78 1791.6 L1195.78 1791.6 L1195.78 1793.9 L1221.95 1793.9 L1221.95 1793.5 L1226.95 1793.5 L1226.95 1793.5 L1253.12 1793.5 L1253.12 1792.3 L1258.12 1792.3 L1258.12 1792.3 L1284.3 1792.3 L1284.3 1792.3 L1289.3 1792.3 L1289.3 1795.5 L1315.47 1795.5 L1315.47 1795.5 L1320.47 1795.5 L1320.47 1805.3 L1346.65 1805.3 L1346.65 1805.3 L1351.65 1805.3 L1351.65 1815.9 L1377.83 1815.9 L1377.83 1815.9 L1382.83 1815.9 L1382.83 1826.8 L1414 1826.8 L1414 1856.4 Z" fill="#3498db"/><path d="M162 1856.4 L162 1848.5 L193.18 1848.5 L193.18 1848.14 L198.18 1848.14 L198.18 1848.14 L224.35 1848.14 L224.35 1847.79 L229.35 1847.79 L229.35 1847.79 L255.53 1847.79 L255.53 1847.43 L260.52 1847.43 L260.52 1847.43 L286.7 1847.43 L286.7 1847.08 L291.7 1847.08 L291.7 1847.08 L317.88 1847.08 L317.88 1846.72 L322.88 1846.72 L322.88 1846.72 L349.05 1846.72 L349.05 1846.37 L354.05 1846.37 L354.05 1846.37 L380.23 1846.37 L380.23 1846.01 L385.23 1846.01 L385.23 1846.01 L411.4 1846.01 L411.4 1845.66 L416.4 1845.66 L416.4 1845.66 L442.57 1845.66 L442.57 1845.3 L447.57 1845.3 L447.57 1845.3 L473.75 1845.3 L473.75 1844.8 L478.75 1844.8 L478.75 1844.8 L504.93 1844.8 L504.93 1844.2 L509.93 1844.2 L509.93 1844.2 L536.1 1844.2 L536.1 1843.2 L541.1 1843.2 L541.1 1843.2 L567.27 1843.2 L567.27 1842.1 L572.27 1842.1 L572.27 1842.1 L598.45 1842.1 L598.45 1840.3 L603.45 1840.3 L603.45 1840.3 L629.62 1840.3 L629.62 1837.3 L634.62 1837.3 L634.62 1837.3 L660.8 1837.3 L660.8 1834.6 L665.8 1834.6 L665.8 1834.6 L691.98 1834.6 L691.98 1830.1 L696.98 1830.1 L696.98 1830.1 L723.15 1830.1 L723.15 1823.3 L728.15 1823.3 L728.15 1823.3 L754.33 1823.3 L754.33 1815.8 L759.33 1815.8 L759.33 1815.8 L785.5 1815.8 L785.5 1809.2 L790.5 1809.2 L790.5 1809.2 L816.67 1809.2 L816.67 1804.1 L821.67 1804.1 L821.67 1804.1 L847.85 1804.1 L847.85 1800.7 L852.85 1800.7 L852.85 1800.7 L879.02 1800.7 L879.02 1799.6 L884.02 1799.6 L884.02 1799.6 L910.2 1799.6 L910.2 1799.6 L915.2 1799.6 L915.2 1804.6 L941.38 1804.6 L941.38 1804.6 L946.38 1804.6 L946.38 1809.8 L972.55 1809.8 L972.55 1809.8 L977.55 1809.8 L977.55 1812.5 L1003.73 1812.5 L1003.73 1812.5 L1008.73 1812.5 L1008.73 1814.3 L1034.9 1814.3 L1034.9 1814.3 L1039.9 1814.3 L1039.9 1815.5 L1066.08 1815.5 L1066.08 1815.5 L1071.08 1815.5 L1071.08 1815.9 L1097.25 1815.9 L1097.25 1815.9 L1102.25 1815.9 L1102.25 1816.8 L1128.42 1816.8 L1128.42 1816.2 L1133.42 1816.2 L1133.42 1816.2 L1159.6 1816.2 L1159.6 1816.2 L1164.6 1816.2 L1164.6 1817.7 L1190.78 1817.7 L1190.78 1817.7 L1195.78 1817.7 L1195.78 1820 L1221.95 1820 L1221.95 1818.9 L1226.95 1818.9 L1226.95 1818.9 L1253.12 1818.9 L1253.12 1817.1 L1258.12 1817.1 L1258.12 1817.1 L1284.3 1817.1 L1284.3 1817.1 L1289.3 1817.1 L1289.3 1817.7 L1315.47 1817.7 L1315.47 1817.7 L1320.47 1817.7 L1320.47 1822.7 L1346.65 1822.7 L1346.65 1822.7 L1351.65 1822.7 L1351.65 1830.7 L1377.83 1830.7 L1377.83 1830.7 L1382.83 1830.7 L1382.83 1837 L1414 1837 L1414 1856.4 Z" fill="#a29bfe"/><path d="M162 1856.4 L162 1850 L193.18 1850 L193.18 1850 L198.18 1850 L198.18 1850 L224.35 1850 L224.35 1850 L229.35 1850 L229.35 1850 L255.53 1850 L255.53 1850 L260.52 1850 L260.52 1850 L286.7 1850 L286.7 1850 L291.7 1850 L291.7 1850 L317.88 1850 L317.88 1850 L322.88 1850 L322.88 1850 L349.05 1850 L349.05 1850 L354.05 1850 L354.05 1850 L380.23 1850 L380.23 1850 L385.23 1850 L385.23 1850 L411.4 1850 L411.4 1850 L416.4 1850 L416.4 1850 L442.57 1850 L442.57 1850 L447.57 1850 L447.57 1850 L473.75 1850 L473.75 1849.8 L478.75 1849.8 L478.75 1849.8 L504.93 1849.8 L504.93 1849.6 L509.93 1849.6 L509.93 1849.6 L536.1 1849.6 L536.1 1849.4 L541.1 1849.4 L541.1 1849.4 L567.27 1849.4 L567.27 1849 L572.27 1849 L572.27 1849 L598.45 1849 L598.45 1848.2 L603.45 1848.2 L603.45 1848.2 L629.62 1848.2 L629.62 1846.4 L634.62 1846.4 L634.62 1846.4 L660.8 1846.4 L660.8 1844.8 L665.8 1844.8 L665.8 1844.8 L691.98 1844.8 L691.98 1843.2 L696.98 1843.2 L696.98 1843.2 L723.15 1843.2 L723.15 1842.1 L728.15 1842.1 L728.15 1842.1 L754.33 1842.1 L754.33 1840.8 L759.33 1840.8 L759.33 1840.8 L785.5 1840.8 L785.5 1839.2 L790.5 1839.2 L790.5 1839.2 L816.67 1839.2 L816.67 1839.2 L821.67 1839.2 L821.67 1839.3 L847.85 1839.3 L847.85 1839.3 L852.85 1839.3 L852.85 1839.8 L879.02 1839.8 L879.02 1839.8 L884.02 1839.8 L884.02 1840.4 L910.2 1840.4 L910.2 1840.4 L915.2 1840.4 L915.2 1841.1 L941.38 1841.1 L941.38 1841.1 L946.38 1841.1 L946.38 1842 L972.55 1842 L972.55 1842 L977.55 1842 L977.55 1842.7 L1003.73 1842.7 L1003.73 1842.7 L1008.73 1842.7 L1008.73 1843.8 L1034.9 1843.8 L1034.9 1843.8 L1039.9 1843.8 L1039.9 1844.3 L1066.08 1844.3 L1066.08 1844.3 L1071.08 1844.3 L1071.08 1845 L1097.25 1845 L1097.25 1845 L1102.25 1845 L1102.25 1845.7 L1128.42 1845.7 L1128.42 1845.7 L1133.42 1845.7 L1133.42 1846 L1159.6 1846 L1159.6 1846 L1164.6 1846 L1164.6 1846.3 L1190.78 1846.3 L1190.78 1846.3 L1195.78 1846.3 L1195.78 1846.6 L1221.95 1846.6 L1221.95 1846.6 L1226.95 1846.6 L1226.95 1847 L1253.12 1847 L1253.12 1847 L1258.12 1847 L1258.12 1847.4 L1284.3 1847.4 L1284.3 1847.4 L1289.3 1847.4 L1289.3 1847.7 L1315.47 1847.7 L1315.47 1847.7 L1320.47 1847.7 L1320.47 1848 L1346.65 1848 L1346.65 1848 L1351.65 1848 L1351.65 1848.2 L1377.83 1848.2 L1377.83 1848.2 L1382.83 1848.2 L1382.83 1848.4 L1414 1848.4 L1414 1856.4 Z" fill="#34495e"/><g><path d="M678.89 1717.44V1718.6 M678.89 1731.4V1732.56" stroke="#000" stroke-width="5"/><path d="M710.06 1633.83V1637.1 M710.06 1649.9V1653.17" stroke="#000" stroke-width="5"/><path d="M741.24 1441.78V1448.7 M741.24 1461.5V1468.42" stroke="#000" stroke-width="5"/><path d="M772.41 1214.15V1224.4 M772.41 1237.2V1247.45" stroke="#000" stroke-width="5"/><path d="M803.59 1127.85V1139.2 M803.59 1152V1163.35" stroke="#000" stroke-width="5"/><path d="M834.76 1237.16V1247.1 M834.76 1259.9V1269.84" stroke="#000" stroke-width="5"/><path d="M865.94 1382.44V1390.3 M865.94 1403.1V1410.96" stroke="#000" stroke-width="5"/><path d="M897.11 1515.86V1521.5 M897.11 1534.3V1539.94" stroke="#000" stroke-width="5"/><path d="M928.29 1570.7V1575.3 M928.29 1588.1V1592.7" stroke="#000" stroke-width="5"/><path d="M959.46 1606.84V1610.7 M959.46 1623.5V1627.36" stroke="#000" stroke-width="5"/><path d="M990.64 1625.85V1629.3 M990.64 1642.1V1645.55" stroke="#000" stroke-width="5"/><path d="M1021.81 1608.48V1612.3 M1021.81 1625.1V1628.92" stroke="#000" stroke-width="5"/><path d="M1052.99 1615.63V1619.3 M1052.99 1632.1V1635.77" stroke="#000" stroke-width="5"/><path d="M1084.16 1630.25V1633.6 M1084.16 1646.4V1649.75" stroke="#000" stroke-width="5"/><path d="M1115.34 1650.31V1653.2 M1115.34 1666V1668.89" stroke="#000" stroke-width="5"/><path d="M1146.51 1654.71V1657.5 M1146.51 1670.3V1673.09" stroke="#000" stroke-width="5"/><path d="M1177.69 1672.14V1674.5 M1177.69 1687.3V1689.66" stroke="#000" stroke-width="5"/><path d="M1208.86 1705.92V1707.4 M1208.86 1720.2V1721.68" stroke="#000" stroke-width="5"/><path d="M1240.04 1698V1699.7 M1240.04 1712.5V1714.2" stroke="#000" stroke-width="5"/><path d="M1271.21 1720.63V1721.7 M1271.21 1734.5V1735.57" stroke="#000" stroke-width="5"/><path d="M1302.39 1717.13V1718.3 M1302.39 1731.1V1732.27" stroke="#000" stroke-width="5"/><path d="M1333.56 1738.88V1739.4 M1333.56 1752.2V1752.72" stroke="#000" stroke-width="5"/><circle cx="180.09" cy="1848.9" r="5.35" fill="#000"/><circle cx="211.26" cy="1843.5" r="5.35" fill="#000"/><circle cx="242.44" cy="1845.1" r="5.35" fill="#000"/><circle cx="273.61" cy="1843" r="5.35" fill="#000"/><circle cx="304.79" cy="1838.5" r="5.35" fill="#000"/><circle cx="335.96" cy="1840.1" r="5.35" fill="#000"/><circle cx="367.14" cy="1834.9" r="5.35" fill="#000"/><circle cx="398.31" cy="1839.2" r="5.35" fill="#000"/><circle cx="429.49" cy="1837.6" r="5.35" fill="#000"/><circle cx="460.66" cy="1831.9" r="5.35" fill="#000"/><circle cx="491.84" cy="1832.8" r="5.35" fill="#000"/><circle cx="523.01" cy="1835.3" r="5.35" fill="#000"/><circle cx="554.19" cy="1816.5" r="5.35" fill="#000"/><circle cx="585.36" cy="1808.1" r="5.35" fill="#000"/><circle cx="616.54" cy="1803.3" r="5.35" fill="#000"/><circle cx="647.71" cy="1770.4" r="5.35" fill="#000"/><circle cx="678.89" cy="1725" r="5.35" fill="#000"/><circle cx="710.06" cy="1643.5" r="5.35" fill="#000"/><circle cx="741.24" cy="1455.1" r="5.35" fill="#000"/><circle cx="772.41" cy="1230.8" r="5.35" fill="#000"/><circle cx="803.59" cy="1145.6" r="5.35" fill="#000"/><circle cx="834.76" cy="1253.5" r="5.35" fill="#000"/><circle cx="865.94" cy="1396.7" r="5.35" fill="#000"/><circle cx="897.11" cy="1527.9" r="5.35" fill="#000"/><circle cx="928.29" cy="1581.7" r="5.35" fill="#000"/><circle cx="959.46" cy="1617.1" r="5.35" fill="#000"/><circle cx="990.64" cy="1635.7" r="5.35" fill="#000"/><circle cx="1021.81" cy="1618.7" r="5.35" fill="#000"/><circle cx="1052.99" cy="1625.7" r="5.35" fill="#000"/><circle cx="1084.16" cy="1640" r="5.35" fill="#000"/><circle cx="1115.34" cy="1659.6" r="5.35" fill="#000"/><circle cx="1146.51" cy="1663.9" r="5.35" fill="#000"/><circle cx="1177.69" cy="1680.9" r="5.35" fill="#000"/><circle cx="1208.86" cy="1713.8" r="5.35" fill="#000"/><circle cx="1240.04" cy="1706.1" r="5.35" fill="#000"/><circle cx="1271.21" cy="1728.1" r="5.35" fill="#000"/><circle cx="1302.39" cy="1724.7" r="5.35" fill="#000"/><circle cx="1333.56" cy="1745.8" r="5.35" fill="#000"/><circle cx="1364.74" cy="1770.1" r="5.35" fill="#000"/><circle cx="1395.91" cy="1807.5" r="5.35" fill="#000"/></g></g><g stroke="#000" stroke-width="5.4" fill="none" stroke-linecap="butt"><path d="M226.85 1853.4V1840.7 M226.85 1055.6V1068.3"/><path d="M289.2 1853.4V1840.7 M289.2 1055.6V1068.3"/><path d="M351.55 1853.4V1840.7 M351.55 1055.6V1068.3"/><path d="M413.9 1853.4V1840.7 M413.9 1055.6V1068.3"/><path d="M476.25 1853.4V1827.9 M476.25 1055.6V1081.1"/><path d="M538.6 1853.4V1840.7 M538.6 1055.6V1068.3"/><path d="M600.95 1853.4V1840.7 M600.95 1055.6V1068.3"/><path d="M663.3 1853.4V1840.7 M663.3 1055.6V1068.3"/><path d="M725.65 1853.4V1840.7 M725.65 1055.6V1068.3"/><path d="M788 1853.4V1827.9 M788 1055.6V1081.1"/><path d="M850.35 1853.4V1840.7 M850.35 1055.6V1068.3"/><path d="M912.7 1853.4V1840.7 M912.7 1055.6V1068.3"/><path d="M975.05 1853.4V1840.7 M975.05 1055.6V1068.3"/><path d="M1037.4 1853.4V1840.7 M1037.4 1055.6V1068.3"/><path d="M1099.75 1853.4V1827.9 M1099.75 1055.6V1081.1"/><path d="M1162.1 1853.4V1840.7 M1162.1 1055.6V1068.3"/><path d="M1224.45 1853.4V1840.7 M1224.45 1055.6V1068.3"/><path d="M1286.8 1853.4V1840.7 M1286.8 1055.6V1068.3"/><path d="M1349.15 1853.4V1840.7 M1349.15 1055.6V1068.3"/><path d="M164.5 1764.34H200 M1411.5 1764.34H1376"/><path d="M164.5 1675.28H200 M1411.5 1675.28H1376"/><path d="M164.5 1586.22H200 M1411.5 1586.22H1376"/><path d="M164.5 1497.16H200 M1411.5 1497.16H1376"/><path d="M164.5 1408.1H200 M1411.5 1408.1H1376"/><path d="M164.5 1319.04H200 M1411.5 1319.04H1376"/><path d="M164.5 1229.98H200 M1411.5 1229.98H1376"/><path d="M164.5 1140.92H200 M1411.5 1140.92H1376"/><path d="M164.5 1831.13H182.5 M1411.5 1831.13H1393.5"/><path d="M164.5 1808.87H182.5 M1411.5 1808.87H1393.5"/><path d="M164.5 1786.61H182.5 M1411.5 1786.61H1393.5"/><path d="M164.5 1742.08H182.5 M1411.5 1742.08H1393.5"/><path d="M164.5 1719.81H182.5 M1411.5 1719.81H1393.5"/><path d="M164.5 1697.55H182.5 M1411.5 1697.55H1393.5"/><path d="M164.5 1653.02H182.5 M1411.5 1653.02H1393.5"/><path d="M164.5 1630.75H182.5 M1411.5 1630.75H1393.5"/><path d="M164.5 1608.49H182.5 M1411.5 1608.49H1393.5"/><path d="M164.5 1563.96H182.5 M1411.5 1563.96H1393.5"/><path d="M164.5 1541.69H182.5 M1411.5 1541.69H1393.5"/><path d="M164.5 1519.43H182.5 M1411.5 1519.43H1393.5"/><path d="M164.5 1474.89H182.5 M1411.5 1474.89H1393.5"/><path d="M164.5 1452.63H182.5 M1411.5 1452.63H1393.5"/><path d="M164.5 1430.37H182.5 M1411.5 1430.37H1393.5"/><path d="M164.5 1385.84H182.5 M1411.5 1385.84H1393.5"/><path d="M164.5 1363.57H182.5 M1411.5 1363.57H1393.5"/><path d="M164.5 1341.31H182.5 M1411.5 1341.31H1393.5"/><path d="M164.5 1296.78H182.5 M1411.5 1296.78H1393.5"/><path d="M164.5 1274.51H182.5 M1411.5 1274.51H1393.5"/><path d="M164.5 1252.24H182.5 M1411.5 1252.24H1393.5"/><path d="M164.5 1207.72H182.5 M1411.5 1207.72H1393.5"/><path d="M164.5 1185.45H182.5 M1411.5 1185.45H1393.5"/><path d="M164.5 1163.18H182.5 M1411.5 1163.18H1393.5"/><path d="M164.5 1118.65H182.5 M1411.5 1118.65H1393.5"/><path d="M164.5 1096.39H182.5 M1411.5 1096.39H1393.5"/><path d="M164.5 1074.12H182.5 M1411.5 1074.12H1393.5"/></g><g stroke="#000" stroke-width="5" fill="none"><rect x="164.5" y="1055.6" width="1247" height="797.8"/></g><text transform="translate(151.9 1873.8) scale(0.985 1.03)" font-size="61.5" class="b" text-anchor="end" >0.0</text><text transform="translate(151.9 1784.74) scale(0.985 1.03)" font-size="61.5" class="b" text-anchor="end" >0.2</text><text transform="translate(151.9 1695.68) scale(0.985 1.03)" font-size="61.5" class="b" text-anchor="end" >0.4</text><text transform="translate(151.9 1606.62) scale(0.985 1.03)" font-size="61.5" class="b" text-anchor="end" >0.6</text><text transform="translate(151.9 1517.56) scale(0.985 1.03)" font-size="61.5" class="b" text-anchor="end" >0.8</text><text transform="translate(151.9 1428.5) scale(0.985 1.03)" font-size="61.5" class="b" text-anchor="end" >1.0</text><text transform="translate(151.9 1339.44) scale(0.985 1.03)" font-size="61.5" class="b" text-anchor="end" >1.2</text><text transform="translate(151.9 1250.38) scale(0.985 1.03)" font-size="61.5" class="b" text-anchor="end" >1.4</text><text transform="translate(151.9 1161.32) scale(0.985 1.03)" font-size="61.5" class="b" text-anchor="end" >1.6</text><text transform="translate(165.5 1908.8) scale(0.985 1.03)" font-size="61.5" class="b" text-anchor="middle" >-0.2</text><text transform="translate(477.25 1908.8) scale(0.985 1.03)" font-size="61.5" class="b" text-anchor="middle" >-0.1</text><text transform="translate(788 1908.8) scale(0.985 1.03)" font-size="61.5" class="b" text-anchor="middle" >0.0</text><text transform="translate(1099.75 1908.8) scale(0.985 1.03)" font-size="61.5" class="b" text-anchor="middle" >0.1</text><text transform="translate(1411.5 1908.8) scale(0.985 1.03)" font-size="61.5" class="b" text-anchor="middle" >0.2</text><path d="M191.5 1018.9L219.5 1046.9 M191.5 1046.9L219.5 1018.9" stroke="#000" stroke-width="6.3" fill="none"/><text x="225.3" y="1048.9" font-size="61.5" class="b" text-anchor="start" textLength="59" lengthAdjust="spacingAndGlyphs">10</text><text x="282.8" y="1027.9" font-size="43" class="b" text-anchor="start" >3</text><path d="M252 1091.1V1104.3 M252 1117.1V1130.5" stroke="#000" stroke-width="5"/><circle cx="252" cy="1110.7" r="5.3" fill="#000"/><text x="324" y="1126.3" font-size="43" class="b" text-anchor="start" >Data</text><path d="M212 1153.25H292.2V1155.55H294.5V1203.85H292.2V1206.15H212V1203.85H209.7V1155.55H212Z" fill="#c4e538"/><path d="M212 1222.2H292.2V1224.5H294.5V1272.8H292.2V1275.1H212V1272.8H209.7V1224.5H212Z" fill="#2ecc71"/><path d="M212 1291.15H292.2V1293.45H294.5V1341.75H292.2V1344.05H212V1341.75H209.7V1293.45H212Z" fill="#3498db"/><path d="M212 1360.1H292.2V1362.4H294.5V1410.7H292.2V1413H212V1410.7H209.7V1362.4H212Z" fill="#a29bfe"/><path d="M212 1429.05H292.2V1431.35H294.5V1479.65H292.2V1481.95H212V1479.65H209.7V1431.35H212Z" fill="#34495e"/><text x="324" y="1195.25" font-size="43" class="b" text-anchor="start" >MC:</text><text x="423.4" y="1195.25" font-size="43" class="bi" text-anchor="start" >D</text><path d="M455.8 1173.45h17 M464.3 1164.95v17" stroke="#000" stroke-width="3.5" fill="none"/><path d="M492.8 1184.65H525.6" stroke="#000" stroke-width="4.3" fill="none"/><path d="M517 1176.15 L525.6 1184.65 L517 1193.15" stroke="#000" stroke-width="4.2" fill="none" stroke-linejoin="miter" stroke-miterlimit="10"/><text x="324" y="1264.2" font-size="43" class="b" text-anchor="start" >MC:</text><text x="423.4" y="1264.2" font-size="43" class="bi" text-anchor="start" >D</text><path d="M455.8 1242.4h17 M464.3 1233.9v17" stroke="#000" stroke-width="3.5" fill="none"/><path d="M492.8 1253.6H525.6" stroke="#000" stroke-width="4.3" fill="none"/><path d="M517 1245.1 L525.6 1253.6 L517 1262.1" stroke="#000" stroke-width="4.2" fill="none" stroke-linejoin="miter" stroke-miterlimit="10"/><text x="324" y="1333.15" font-size="43" class="b" text-anchor="start" >MC:</text><text x="423.4" y="1333.15" font-size="43" class="bi" text-anchor="start" >D</text><path d="M455.8 1311.35h17 M464.3 1302.85v17" stroke="#000" stroke-width="3.5" fill="none"/><path d="M492.8 1322.55H525.6" stroke="#000" stroke-width="4.3" fill="none"/><path d="M517 1314.05 L525.6 1322.55 L517 1331.05" stroke="#000" stroke-width="4.2" fill="none" stroke-linejoin="miter" stroke-miterlimit="10"/><text x="545.5" y="1195.25" font-size="43" class="bi" text-anchor="start" >π</text><text x="568" y="1181.05" font-size="31" class="b" text-anchor="start" >0</text><text x="584" y="1195.25" font-size="43" class="bi" text-anchor="start" >e</text><path d="M605.2 1174.95h17 M613.7 1166.45v17" stroke="#000" stroke-width="3.5" fill="none"/><text x="627.5" y="1195.25" font-size="43" class="bi" text-anchor="start" >ν</text><text x="645.8" y="1202.65" font-size="28.5" class="bi" text-anchor="start" >e</text><text x="547.9" y="1264.2" font-size="43" class="bi" text-anchor="start" >K</text><text x="577.2" y="1250" font-size="31" class="b" text-anchor="start" >0</text><text x="576.7" y="1285.4" font-size="30" class="bi" text-anchor="start" >S</text><text x="593" y="1264.2" font-size="43" class="bi" text-anchor="start" >e</text><path d="M613.8 1243.4h17 M622.3 1234.9v17" stroke="#000" stroke-width="3.5" fill="none"/><text x="635.3" y="1264.2" font-size="43" class="bi" text-anchor="start" >ν</text><text x="654.3" y="1271.6" font-size="28.5" class="bi" text-anchor="start" >e</text><text x="547.9" y="1333.15" font-size="43" class="bi" text-anchor="start" >K</text><text x="577.2" y="1318.95" font-size="31" class="b" text-anchor="start" >0</text><text x="576.7" y="1354.35" font-size="30" class="bi" text-anchor="start" >L</text><text x="593" y="1333.15" font-size="43" class="bi" text-anchor="start" >e</text><path d="M613.8 1312.35h17 M622.3 1303.85v17" stroke="#000" stroke-width="3.5" fill="none"/><text x="635.3" y="1333.15" font-size="43" class="bi" text-anchor="start" >ν</text><text x="654.3" y="1340.55" font-size="28.5" class="bi" text-anchor="start" >e</text><text x="324" y="1402.1" font-size="43" class="b" text-anchor="start" >MC: other</text><text x="532.3" y="1402.1" font-size="43" class="bi" text-anchor="start" >D</text><path d="M564.3 1380.3h17 M572.8 1371.8v17" stroke="#000" stroke-width="3.5" fill="none"/><text x="595.3" y="1402.1" font-size="43" class="b" text-anchor="start" >decays</text><text x="324" y="1471.05" font-size="43" class="b" text-anchor="start" >MC: non-</text><text x="507.3" y="1471.05" font-size="43" class="bi" text-anchor="start" >D</text><path d="M540.3 1449.25h17 M548.8 1440.75v17" stroke="#000" stroke-width="3.5" fill="none"/><text x="570.5" y="1471.05" font-size="43" class="b" text-anchor="start" >decays</text><text transform="translate(47.8 1452.2) rotate(-90)" font-size="60" class="b" text-anchor="middle">Events / (10 MeV)</text><text x="1215.6" y="1179.9" font-size="55.5" class="b" text-anchor="middle" >(b)</text><text x="643.2" y="1974.8" font-size="61" class="bi" text-anchor="start" >U</text><path d="M696 1934.8 L700.8 1934.2 L692.2 1952.4 L690.6 1952 Z" fill="#000" stroke="#000" stroke-width="1.6" stroke-linejoin="round"/><text x="685.8" y="2001.8" font-size="42" class="b" text-anchor="start" textLength="75.5" lengthAdjust="spacingAndGlyphs">miss</text><text x="777.9" y="1974.8" font-size="59.3" class="b" text-anchor="start" >(GeV)</text></svg>
</body></html>
